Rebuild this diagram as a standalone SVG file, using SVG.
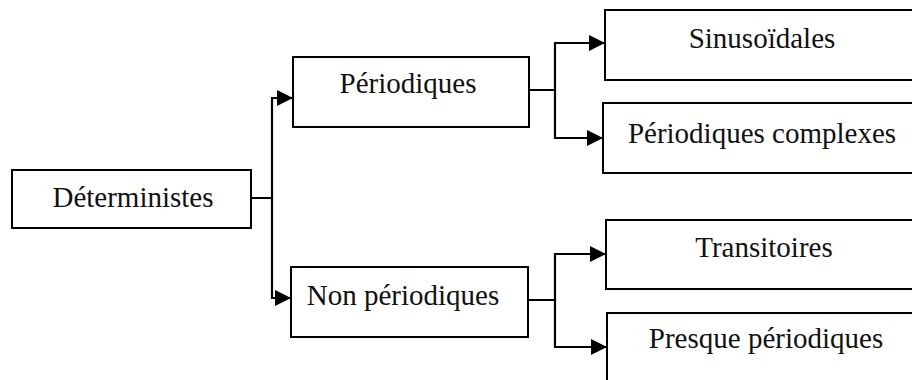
<svg xmlns="http://www.w3.org/2000/svg" width="912" height="380" viewBox="0 0 912 380">
<style>
.box{fill:#fff;stroke:#000;stroke-width:2}
.lbl{font-family:"Liberation Serif","Times New Roman",serif;font-size:29px;fill:#111;text-anchor:middle}
.con{fill:none;stroke:#000;stroke-width:2.2;marker-end:url(#arr)}
</style>
<defs>
<marker id="arr" markerUnits="userSpaceOnUse" markerWidth="18" markerHeight="18" refX="16" refY="8" orient="auto">
<path d="M0,0 L16,8 L0,16 z" fill="#000"/>
</marker>
</defs>
<rect width="912" height="380" fill="#fff"/>
<g id="connectors">
<path class="con" d="M251,198 H272 V98 H293"/>
<path class="con" d="M272,198 V298 H291"/>
<path class="con" d="M529,90 H555 V43 H605"/>
<path class="con" d="M555,90 V138 H603"/>
<path class="con" d="M528,300 H555 V254 H606"/>
<path class="con" d="M555,300 V347 H607"/>
</g>
<g id="deterministes">
<rect class="box" x="12" y="170" width="239" height="58"/>
<text class="lbl" x="133" y="207">Déterministes</text>
</g>
<g id="periodiques">
<rect class="box" x="293" y="57" width="236" height="70"/>
<text class="lbl" x="408" y="93">Périodiques</text>
</g>
<g id="non-periodiques">
<rect class="box" x="291" y="267" width="237" height="70"/>
<text class="lbl" x="403" y="305">Non périodiques</text>
</g>
<g id="sinusoidales">
<rect class="box" x="605" y="10" width="320" height="70"/>
<text class="lbl" x="762" y="48">Sinusoïdales</text>
</g>
<g id="periodiques-complexes">
<rect class="box" x="603" y="103" width="320" height="70"/>
<text class="lbl" x="762" y="143">Périodiques complexes</text>
</g>
<g id="transitoires">
<rect class="box" x="606" y="220" width="320" height="69"/>
<text class="lbl" x="764" y="257">Transitoires</text>
</g>
<g id="presque-periodiques">
<rect class="box" x="607" y="313" width="320" height="80"/>
<text class="lbl" x="766" y="348">Presque périodiques</text>
</g>
</svg>
